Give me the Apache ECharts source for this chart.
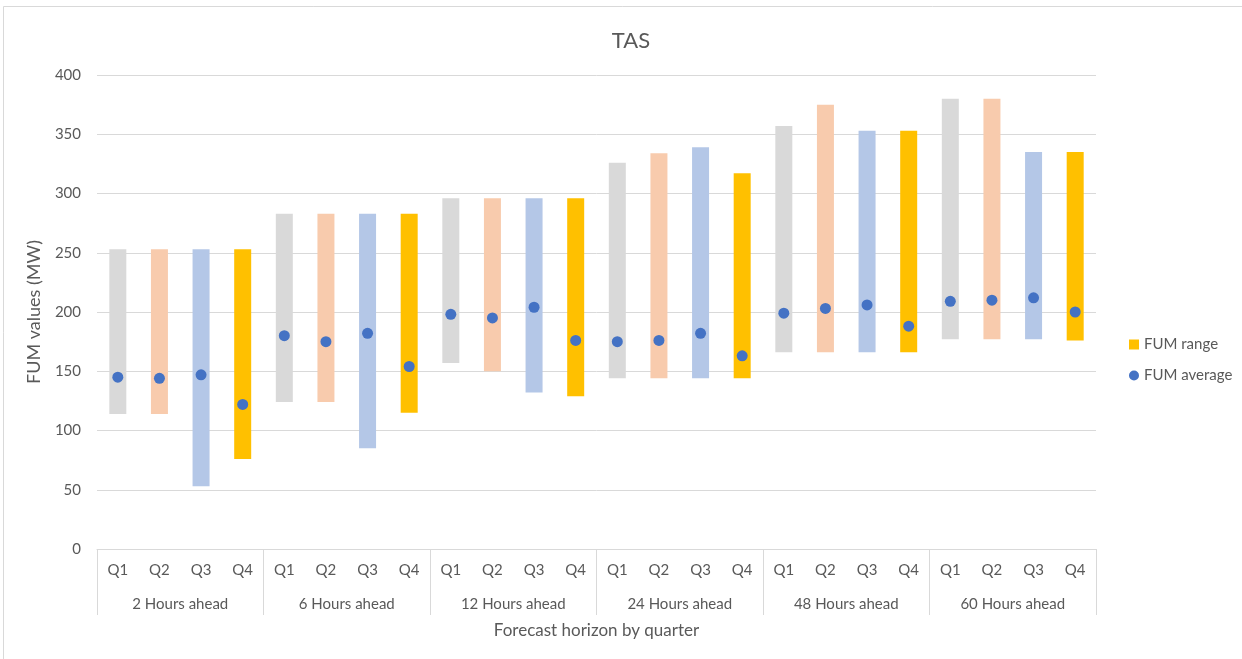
<!DOCTYPE html>
<html>
<head>
<meta charset="utf-8">
<script src="https://cdn.jsdelivr.net/npm/echarts@6/dist/echarts.min.js"></script>
<style>
  html, body { margin: 0; padding: 0; background: #fff; }
  #chart { width: 1242px; height: 659px; }
</style>
</head>
<body>
<div id="chart"></div>
<script>
// Forecast horizons (outer axis level) and quarters (inner axis level)
const horizons = ['2 Hours ahead', '6 Hours ahead', '12 Hours ahead', '24 Hours ahead', '48 Hours ahead', '60 Hours ahead'];
const quarters = ['Q1', 'Q2', 'Q3', 'Q4'];

// FUM range (MW): lower and upper bound per horizon/quarter, in horizon order
const rangeLow = [
  114, 114, 53, 76,
  124, 124, 85, 115,
  157, 150, 132, 129,
  144, 144, 144, 144,
  166, 166, 166, 166,
  177, 177, 177, 176
];
const rangeHigh = [
  253, 253, 253, 253,
  283, 283, 283, 283,
  296, 296, 296, 296,
  326, 334, 339, 317,
  357, 375, 353, 353,
  380, 380, 335, 335
];

// FUM average (MW)
const average = [
  145, 144, 147, 122,
  180, 175, 182, 154,
  198, 195, 204, 176,
  175, 176, 182, 163,
  199, 203, 206, 188,
  209, 210, 212, 200
];

const yTicks = { min: 0, max: 400, interval: 50 };

const quarterColors = ['#D9D9D9', '#F8CBAD', '#B4C7E7', '#FFC000'];
const textColor = '#595959';
const lineColor = '#D9D9D9';
const font = 'Lato, "Open Sans", "Liberation Sans", sans-serif';

const categories = [];
horizons.forEach(() => quarters.forEach(q => categories.push(q)));

const rangeData = rangeHigh.map((h, i) => ({
  value: h - rangeLow[i],
  itemStyle: { color: quarterColors[i % quarters.length] }
}));

const chart = echarts.init(document.getElementById('chart'), null, { renderer: 'canvas' });

chart.setOption({
  animation: false,
  backgroundColor: '#ffffff',
  textStyle: { fontFamily: font },
  title: {
    text: 'TAS',
    left: 626,
    top: 25,
    textAlign: 'center',
    textStyle: { fontFamily: font, fontSize: 22, fontWeight: 'normal', color: textColor }
  },
  legend: {
    data: [
      { name: 'FUM range', icon: 'rect' },
      { name: 'FUM average', icon: 'circle' }
    ],
    orient: 'vertical',
    left: 1124,
    top: 332,
    itemWidth: 10,
    itemHeight: 10,
    itemGap: 16,
    textStyle: { fontFamily: font, fontSize: 15, color: textColor }
  },
  grid: { left: 97, right: 146, top: 75, bottom: 110, containLabel: false },
  xAxis: [
    {
      type: 'category',
      data: categories,
      position: 'bottom',
      axisLine: { show: true, lineStyle: { color: lineColor, width: 1 } },
      axisTick: { show: false },
      axisLabel: { color: textColor, fontSize: 15, margin: 14, interval: 0, fontFamily: font }
    },
    {
      type: 'category',
      data: horizons,
      position: 'bottom',
      axisLine: { show: false },
      axisTick: { show: true, length: 66, lineStyle: { color: lineColor, width: 1 } },
      axisLabel: { color: textColor, fontSize: 15, margin: 48, interval: 0, fontFamily: font },
      name: 'Forecast horizon by quarter',
      nameLocation: 'middle',
      nameGap: 73,
      nameTextStyle: { color: textColor, fontSize: 17, fontFamily: font }
    }
  ],
  yAxis: {
    type: 'value',
    min: yTicks.min,
    max: yTicks.max,
    interval: yTicks.interval,
    axisLine: { show: false },
    axisTick: { show: false },
    splitLine: { lineStyle: { color: lineColor, width: 1 } },
    axisLabel: { color: textColor, fontSize: 15, margin: 16, fontFamily: font },
    name: 'FUM values (MW)',
    nameLocation: 'middle',
    nameGap: 54,
    nameRotate: 90,
    nameTextStyle: { color: textColor, fontSize: 18, fontFamily: font }
  },
  series: [
    {
      name: 'base',
      type: 'bar',
      stack: 'range',
      xAxisIndex: 0,
      barWidth: 17,
      itemStyle: { color: 'transparent' },
      emphasis: { disabled: true },
      data: rangeLow,
      silent: true
    },
    {
      name: 'FUM range',
      type: 'bar',
      stack: 'range',
      xAxisIndex: 0,
      barWidth: 17,
      itemStyle: { color: '#FFC000' },
      data: rangeData
    },
    {
      name: 'FUM average',
      type: 'scatter',
      xAxisIndex: 0,
      symbol: 'circle',
      symbolSize: 11,
      itemStyle: { color: '#4472C4', opacity: 1 },
      data: average,
      z: 5
    }
  ],
  graphic: [
    { type: 'line', shape: { x1: 3.5, y1: 6.5, x2: 1242, y2: 6.5 }, style: { stroke: lineColor, lineWidth: 1 } },
    { type: 'line', shape: { x1: 3.5, y1: 6.5, x2: 3.5, y2: 659 }, style: { stroke: lineColor, lineWidth: 1 } }
  ]
});
</script>
</body>
</html>
